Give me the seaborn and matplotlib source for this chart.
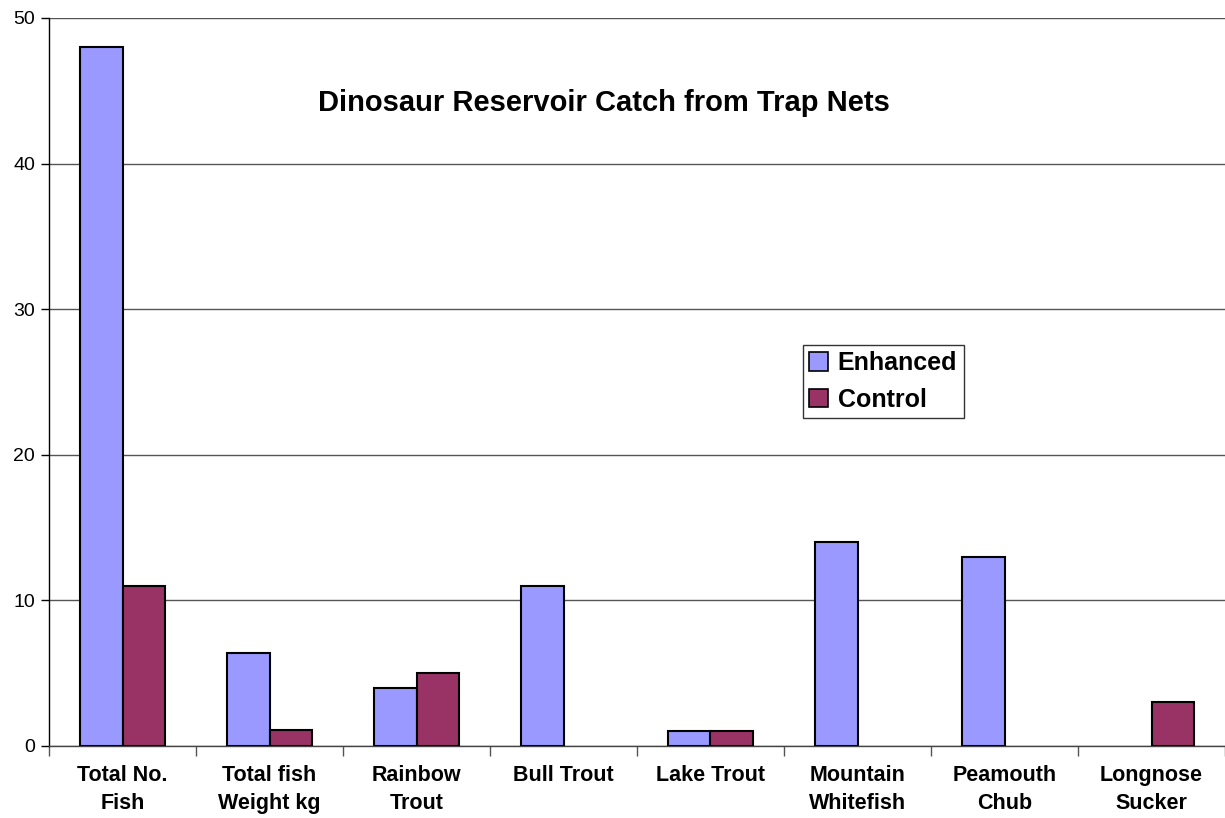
import matplotlib
matplotlib.use("Agg")
import matplotlib.pyplot as plt
from matplotlib.patches import Patch
import seaborn as sns
import pandas as pd
import numpy as np

categories = ["Total No.\nFish", "Total fish\nWeight kg", "Rainbow\nTrout", "Bull Trout",
              "Lake Trout", "Mountain\nWhitefish", "Peamouth\nChub", "Longnose\nSucker"]
enhanced = [48, 6.4, 4, 11, 1, 14, 13, 0]
control = [11, 1.1, 5, 0, 1, 0, 0, 3]
series_names = ["Enhanced", "Control"]
series_colors = ["#9999FF", "#993366"]
yticks = [0, 10, 20, 30, 40, 50]
title = "Dinosaur Reservoir Catch from Trap Nets"

sns.set_style("white")
plt.rcParams['font.family'] = ['Liberation Sans', 'DejaVu Sans']
plt.rcParams['text.color'] = 'black'
plt.rcParams['xtick.color'] = 'black'
plt.rcParams['ytick.color'] = 'black'
plt.rcParams['axes.labelcolor'] = 'black'

df = pd.DataFrame({
    "category": categories * 2,
    "value": enhanced + control,
    "series": [series_names[0]] * len(categories) + [series_names[1]] * len(categories),
})

fig = plt.figure(figsize=(12.25, 8.18), dpi=100)
ax = fig.add_axes([49 / 1225, 72 / 818, 1 - 49 / 1225, 728 / 818])

sns.barplot(data=df, x="category", y="value", hue="series", order=categories,
            hue_order=series_names, palette=series_colors, width=0.58,
            edgecolor="black", linewidth=1.5, saturation=1, ax=ax, errorbar=None,
            zorder=3, legend=False)

# zero-height bars leave no visible mark in the reference
for p in ax.patches:
    if p.get_height() == 0:
        p.set_visible(False)

ax.set_xlim(-0.5, len(categories) - 0.5)
ax.set_ylim(0, 50)
ax.set_yticks(yticks)
ax.set_yticklabels([str(v) for v in yticks], fontsize=14, color="black")
ax.yaxis.grid(True, color="#555555", linewidth=1, zorder=0)
ax.set_axisbelow(True)
ax.tick_params(axis="y", direction="out", length=6, width=1, color="black", pad=4, left=True)

ax.set_xticks(range(len(categories)))
ax.set_xticklabels(categories, fontsize=15.5, fontweight="bold", linespacing=1.4, color="black")
ax.tick_params(axis="x", which="major", length=0, pad=14)
ax.set_xticks(np.arange(-0.5, len(categories), 1.0), minor=True)
ax.tick_params(axis="x", which="minor", direction="out", length=7, width=1, color="#555555", bottom=True)

ax.set_xlabel("")
ax.set_ylabel("")
for s in ["top", "right"]:
    ax.spines[s].set_visible(False)
ax.spines["left"].set_color("black")
ax.spines["bottom"].set_color("#444444")
ax.spines["left"].set_linewidth(1)
ax.spines["bottom"].set_linewidth(1)

ax.text(0.4715, 0.883, title, transform=ax.transAxes, ha="center", va="center",
        fontsize=21, fontweight="bold", color="black")

handles = [Patch(facecolor=c, edgecolor="black", linewidth=1.2, label=n)
           for n, c in zip(series_names, series_colors)]
leg = ax.legend(handles=handles, loc="upper left", bbox_to_anchor=(0.641, 0.551), frameon=True,
                fancybox=False, prop={"size": 18, "weight": "bold"},
                handlelength=0.75, handleheight=0.75, handletextpad=0.4,
                borderpad=0.25, labelspacing=0.5, borderaxespad=0)
leg.get_frame().set_edgecolor("black")
leg.get_frame().set_linewidth(1)
for t in leg.get_texts():
    t.set_color("black")

fig.savefig("out.png", dpi=100)
